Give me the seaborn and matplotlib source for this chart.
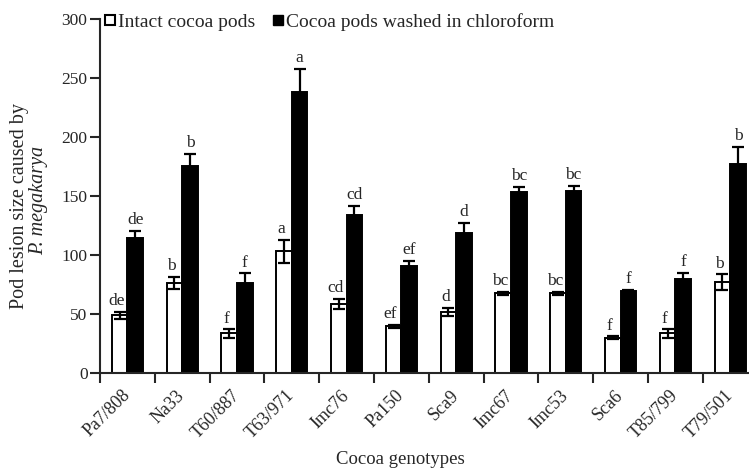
import numpy as np
import pandas as pd
import matplotlib
matplotlib.use("Agg")
import matplotlib.pyplot as plt
import matplotlib.transforms as mtransforms
import seaborn as sns
from matplotlib.lines import Line2D

genotypes = ["Pa7/808", "Na33", "T60/887", "T63/971", "Imc76", "Pa150",
             "Sca9", "Imc67", "Imc53", "Sca6", "T85/799", "T79/501"]
intact = [49, 76.5, 33.5, 103, 58.5, 39.5, 52, 67.5, 67.5, 30, 33.5, 77]
intact_err = [3, 5, 3.5, 10, 4, 1.5, 3.5, 1, 1, 1, 3.5, 6.5]
washed = [114, 175, 76.5, 238, 133.5, 90.5, 119, 153.5, 154.5, 69.5, 80, 177]
washed_err = [6.5, 11, 8, 20, 8, 4.5, 8.5, 4, 4, 0.8, 5, 14.5]
intact_letters = ["de", "b", "f", "a", "cd", "ef", "d", "bc", "bc", "f", "f", "b"]
washed_letters = ["de", "b", "f", "a", "cd", "ef", "d", "bc", "bc", "f", "f", "b"]
treatments = ["Intact cocoa pods", "Cocoa pods washed in chloroform"]

df = pd.DataFrame({
    "genotype": genotypes * 2,
    "lesion": intact + washed,
    "treatment": [treatments[0]] * len(genotypes) + [treatments[1]] * len(genotypes),
})

sns.set_style("ticks")
plt.rcParams["font.family"] = ["Liberation Serif", "DejaVu Serif"]

fig = plt.figure(figsize=(7.49, 4.71), dpi=100)
ax = fig.add_axes([100 / 749, 98 / 471, 657.6 / 749, 354 / 471])

sns.barplot(data=df, x="genotype", y="lesion", hue="treatment",
            hue_order=treatments, order=genotypes,
            palette={treatments[0]: "white", treatments[1]: "black"},
            width=0.57, edgecolor="black", linewidth=1.4,
            errorbar=None, legend=False, ax=ax)

# mean ± error bars and significance letters above each bar
for container, errs, letters, shift in zip(ax.containers, [intact_err, washed_err],
                                           [intact_letters, washed_letters], [-2.2, 0]):
    for bar, e, lab in zip(container, errs, letters):
        x = bar.get_x() + bar.get_width() / 2
        h = bar.get_height()
        ax.errorbar(x, h, yerr=e, fmt="none", ecolor="black",
                    elinewidth=1.6, capsize=4, capthick=1.6, zorder=3)
        ax.annotate(lab, (x, h + e), xytext=(shift, 2), textcoords="offset points",
                    ha="center", va="bottom", fontsize=12.5, zorder=4)

ax.set_ylim(0, 300)
ax.set_xlim(-0.5, len(genotypes) - 0.5)
ax.set_yticks(np.arange(0, 301, 50))
ax.tick_params(axis="y", labelsize=12.5, length=7, width=1.5, direction="out", pad=2)
ax.set_xticks(np.arange(len(genotypes)))
ax.set_xticklabels(genotypes, rotation=45, ha="right", rotation_mode="anchor",
                   fontsize=13)
ax.tick_params(axis="x", which="major", length=0, pad=10)
ax.set_xticks(np.arange(len(genotypes) + 1) - 0.5, minor=True)
ax.tick_params(axis="x", which="minor", length=7, width=1.5, direction="out")
shift_left = mtransforms.ScaledTranslation(-6 / 100, 0, fig.dpi_scale_trans)
for lbl in ax.get_xticklabels():
    lbl.set_transform(lbl.get_transform() + shift_left)

for side in ["top", "right"]:
    ax.spines[side].set_visible(False)
for side in ["left", "bottom"]:
    ax.spines[side].set_linewidth(1.5)

ax.set_xlabel("")
ax.set_ylabel("")
fig.text(400 / 749, 1 - 459 / 471, "Cocoa genotypes", ha="center", va="center",
         fontsize=13.5)
fig.text(20 / 749, 1 - 206 / 471, "Pod lesion size caused by", rotation=90,
         ha="center", va="center", fontsize=14.5)
fig.text(39 / 749, 1 - 200 / 471, "P. megakarya", rotation=90, style="italic",
         ha="center", va="center", fontsize=14.5)

handles = [
    Line2D([], [], marker="s", linestyle="none", markersize=7,
           markerfacecolor="white", markeredgecolor="black", markeredgewidth=1.5),
    Line2D([], [], marker="s", linestyle="none", markersize=7,
           markerfacecolor="black", markeredgecolor="black"),
]
fig.legend(handles, treatments, loc="center left",
           bbox_to_anchor=(104 / 749, 1 - 22 / 471), ncol=2, frameon=False,
           fontsize=14, handlelength=0.6, handletextpad=0.1, columnspacing=0.9,
           borderpad=0, borderaxespad=0)

fig.savefig("out.png", dpi=100)
